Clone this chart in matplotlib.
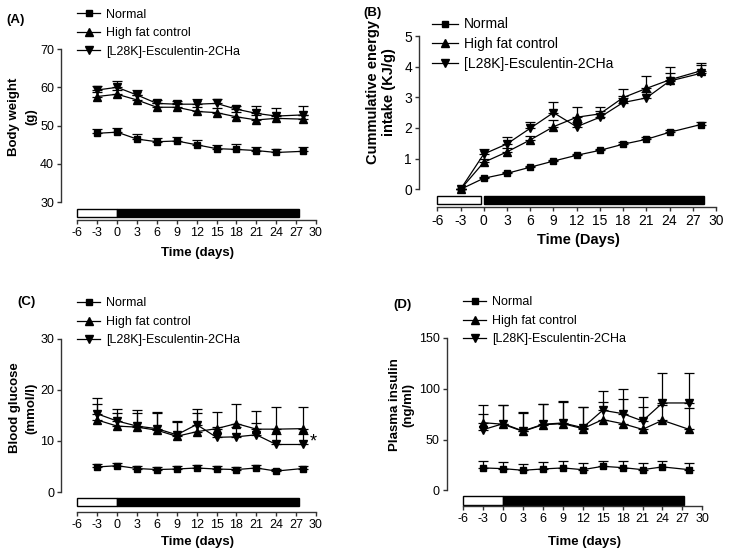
import matplotlib
matplotlib.use('Agg')
import matplotlib.pyplot as plt
from matplotlib.lines import Line2D

plt.rcParams['font.family'] = ['Liberation Sans', 'DejaVu Sans']

# ---------------- data ----------------
days = [-3, 0, 3, 6, 9, 12, 15, 18, 21, 24, 28]
series_names = ['Normal', 'High fat control', '[L28K]-Esculentin-2CHa']
x_ticks = [-6, -3, 0, 3, 6, 9, 12, 15, 18, 21, 24, 27, 30]

# (A) body weight (g)
bw_normal = [48.0, 48.3, 46.5, 45.8, 46.0, 45.0, 44.0, 43.8, 43.5, 43.0, 43.3]
bw_normal_err = [1.0, 1.0, 1.2, 1.0, 1.0, 1.3, 1.0, 1.5, 1.0, 1.0, 1.2]
bw_hfc = [57.6, 58.2, 56.7, 54.8, 54.8, 53.7, 53.4, 52.3, 51.5, 51.9, 51.7]
bw_hfc_err = [1.2, 1.2, 1.2, 1.0, 1.0, 1.2, 1.2, 1.2, 1.2, 1.0, 1.2]
bw_esc = [59.3, 60.0, 58.0, 55.8, 55.6, 55.6, 55.8, 54.3, 53.2, 52.5, 52.8]
bw_esc_err = [1.0, 1.6, 1.3, 0.9, 0.9, 1.4, 1.2, 0.8, 1.9, 2.0, 2.2]

# (B) cumulative energy intake (KJ/g)
ei_normal = [0.0, 0.36, 0.52, 0.72, 0.92, 1.11, 1.27, 1.47, 1.63, 1.86, 2.11]
ei_normal_err = [0.0, 0.03, 0.03, 0.04, 0.05, 0.05, 0.05, 0.06, 0.06, 0.07, 0.08]
ei_hfc = [0.0, 0.88, 1.22, 1.61, 2.04, 2.35, 2.46, 2.99, 3.29, 3.57, 3.86]
ei_hfc_err = [0.0, 0.10, 0.12, 0.12, 0.22, 0.32, 0.24, 0.29, 0.40, 0.41, 0.26]
ei_esc = [0.0, 1.15, 1.48, 1.99, 2.50, 2.04, 2.35, 2.83, 2.98, 3.53, 3.78]
ei_esc_err = [0.0, 0.15, 0.24, 0.21, 0.36, 0.15, 0.20, 0.20, 0.20, 0.27, 0.27]

# (C) blood glucose (mmol/l)
bg_normal = [4.9, 5.15, 4.6, 4.4, 4.5, 4.7, 4.5, 4.4, 4.7, 4.1, 4.6]
bg_normal_err = [0.5, 0.5, 0.5, 0.4, 0.5, 0.5, 0.5, 0.4, 0.5, 0.4, 0.5]
bg_hfc = [14.1, 12.9, 12.7, 12.1, 10.9, 11.8, 12.4, 13.4, 12.3, 12.3, 12.4]
bg_hfc_err = [3.2, 2.5, 3.3, 3.5, 2.9, 4.5, 3.3, 3.8, 3.6, 4.4, 4.3]
bg_esc = [15.3, 13.9, 12.9, 12.4, 11.2, 13.2, 10.7, 10.8, 11.2, 9.3, 9.3]
bg_esc_err = [3.0, 2.3, 2.5, 3.0, 2.5, 2.2, 2.0, 2.0, 2.3, 2.0, 2.0]

# (D) plasma insulin (ng/ml)
pi_normal = [22.0, 21.3, 19.7, 21.0, 22.0, 20.3, 23.6, 22.3, 20.3, 23.0, 20.3]
pi_normal_err = [6.5, 6.5, 6.5, 6.5, 7.0, 7.0, 5.5, 7.0, 7.0, 5.5, 7.0]
pi_hfc = [66.6, 65.0, 58.0, 64.6, 65.6, 60.7, 69.6, 65.6, 60.0, 68.9, 60.0]
pi_hfc_err = [9.0, 19.0, 19.0, 20.0, 22.0, 21.0, 17.0, 24.0, 22.0, 15.0, 21.0]
pi_esc = [59.7, 65.6, 58.4, 65.0, 66.3, 61.7, 78.8, 75.5, 68.3, 86.0, 86.0]
pi_esc_err = [24.0, 18.0, 18.0, 20.0, 21.0, 20.0, 19.0, 24.0, 24.0, 30.0, 30.0]

# treatment timeline (white = run-in, black = treatment)
phase_start = [-6, 0]
phase_colors = ['white', 'black']

# ---------------- figure ----------------
W, H = 750, 554
fig = plt.figure(figsize=(W / 100, H / 100), dpi=100)


def fx(p):
    return p / W


def fy(p):
    return 1 - p / H


panels = [
    dict(rect=(77.3, 316, 49, 220), ylim=(25.38, 70), yticks=[30, 40, 50, 60, 70],
         bounds=(30, 70), offset=16.3, bar=(26.24, 28.17), phase_end=[0, 27.4],
         data=[(bw_normal, bw_normal_err), (bw_hfc, bw_hfc_err), (bw_esc, bw_esc_err)],
         ylabel='Body weight\n(g)', ylab_pos=(22.7, 117), lsp=1.55,
         xlabel='Time (days)', xlab_pos=(197.7, 253),
         tag='(A)', tag_pos=(16, 20), leg=(77, 13.3), fs=9, legsp=0.52),
    dict(rect=(437.3, 716, 36, 207.3), ylim=(-0.587, 5), yticks=[0, 1, 2, 3, 4, 5],
         bounds=(0, 5), offset=18.3, bar=(-0.479, -0.218), phase_end=[-0.4, 28.5],
         data=[(ei_normal, ei_normal_err), (ei_hfc, ei_hfc_err), (ei_esc, ei_esc_err)],
         ylabel='Cummulative energy\nintake (KJ/g)', ylab_pos=(381, 92), lsp=1.2,
         xlabel='Time (Days)', xlab_pos=(578.7, 240),
         tag='(B)', tag_pos=(372, 13), leg=(432, 22), fs=10, legsp=0.42),
    dict(rect=(77.3, 316, 338.7, 512), ylim=(-3.91, 30), yticks=[0, 10, 20, 30],
         bounds=(0, 30), offset=16.3, bar=(-2.8, -1.17), phase_end=[0, 27.4],
         data=[(bg_normal, bg_normal_err), (bg_hfc, bg_hfc_err), (bg_esc, bg_esc_err)],
         ylabel='Blood glucose\n(mmol/l)', ylab_pos=(23, 408), lsp=1.5,
         xlabel='Time (days)', xlab_pos=(197.7, 542),
         tag='(C)', tag_pos=(26, 302), leg=(77, 302), fs=9, legsp=0.52),
    dict(rect=(463.3, 702.3, 338, 506.3), ylim=(-15.8, 150), yticks=[0, 50, 100, 150],
         bounds=(0, 150), offset=16.6, bar=(-14.2, -5.6), phase_end=[0, 27.3],
         data=[(pi_normal, pi_normal_err), (pi_hfc, pi_hfc_err), (pi_esc, pi_esc_err)],
         ylabel='Plasma insulin\n(ng/ml)', ylab_pos=(401.5, 405), lsp=1.2,
         xlabel='Time (days)', xlab_pos=(584, 542),
         tag='(D)', tag_pos=(402, 305), leg=(463, 301), fs=9, legsp=0.52),
]

markers = [('s', 5.0), ('^', 5.6), ('v', 5.6)]

axes = []
for p in panels:
    l, r, t, b = p['rect']
    ax = fig.add_axes([fx(l), fy(b), fx(r) - fx(l), fy(t) - fy(b)])
    axes.append(ax)
    ax.set_xlim(-6, 30)
    ax.set_ylim(*p['ylim'])
    ax.set_facecolor('none')

    for (vals, errs), (m, ms) in zip(p['data'], markers):
        ax.errorbar(days, vals, yerr=[[0] * len(errs), errs], fmt='-', marker=m,
                    ms=ms, color='black', lw=0.9, elinewidth=0.9, capsize=3.5,
                    capthick=0.9, clip_on=False)

    # timeline bar
    widths = [e - s for s, e in zip(phase_start, p['phase_end'])]
    b0, b1 = p['bar']
    ax.barh((b0 + b1) / 2, widths, left=phase_start, height=b1 - b0,
            color=phase_colors, edgecolor='black', linewidth=1, clip_on=False)

    # spines
    for s in ['top', 'right']:
        ax.spines[s].set_visible(False)
    ax.spines['left'].set_position(('outward', p['offset'] * 0.72))
    ax.spines['left'].set_bounds(*p['bounds'])
    ax.spines['bottom'].set_bounds(-6, 30)
    for s in ['left', 'bottom']:
        ax.spines[s].set_linewidth(1)
        ax.spines[s].set_color('#333333')
    ax.set_yticks(p['yticks'])
    ax.set_yticklabels([str(v) for v in p['yticks']])
    ax.set_xticks(x_ticks)
    ax.set_xticklabels([str(v) for v in x_ticks])
    ax.tick_params(direction='out', length=3, width=1, pad=2,
                   labelsize=p['fs'], colors='#333333', labelcolor='black')

    fig.text(fx(p['ylab_pos'][0]), fy(p['ylab_pos'][1]), p['ylabel'], rotation=90,
             ha='center', va='center', multialignment='center', fontsize=p['fs'] + 0.5,
             fontweight='bold', linespacing=p['lsp'])
    fig.text(fx(p['xlab_pos'][0]), fy(p['xlab_pos'][1]), p['xlabel'],
             ha='center', va='center', fontsize=p['fs'] + 0.5, fontweight='bold')
    fig.text(fx(p['tag_pos'][0]), fy(p['tag_pos'][1]), p['tag'],
             ha='center', va='center', fontsize=9.5, fontweight='bold')

    handles = [Line2D([], [], color='black', lw=0.9, marker=m, ms=ms) for m, ms in markers]
    lx, ly = p['leg']
    fig.legend(handles, series_names, loc='upper left',
               bbox_to_anchor=(fx(lx), fy(ly - 4.5)), frameon=False,
               fontsize=p['fs'], handlelength=1.85, handletextpad=0.45,
               labelspacing=p['legsp'], borderpad=0, borderaxespad=0)

# significance marker in (C)
axes[2].text(29.1, bg_esc[-1] + 0.4, '*', ha='left', va='center', fontsize=13)

fig.savefig('out.png', dpi=100)
